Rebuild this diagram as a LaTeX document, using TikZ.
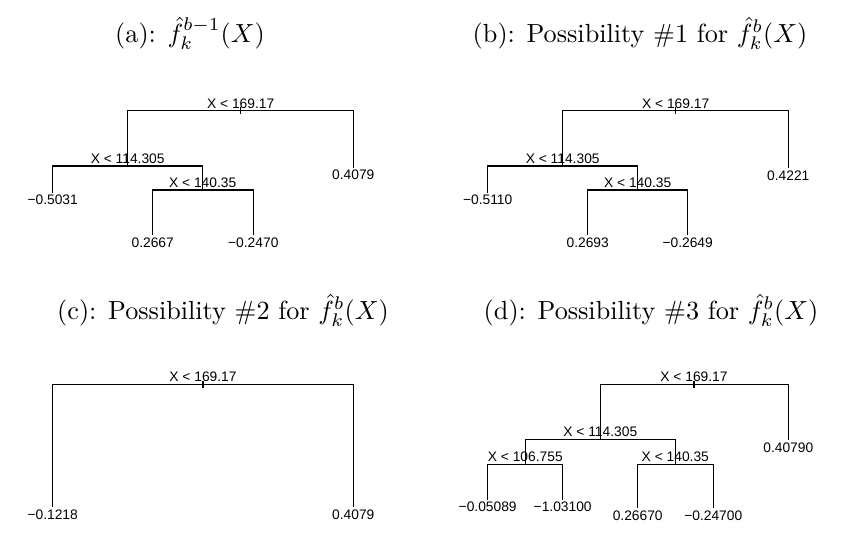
\documentclass[tikz,border=0pt]{standalone}
\usepackage{graphicx}
\usepackage{fontspec}
\newfontfamily\treefont{Liberation Sans}
\newcommand{\ttl}[1]{\scalebox{2.62}{\fontsize{10}{12}\selectfont #1}}
\begin{document}
\begin{tikzpicture}[x=1pt,y=-1pt,
  edge/.style={line width=1.3pt, black},
  split/.style={font=\treefont\fontsize{13.8}{15}\selectfont, anchor=base, inner sep=0pt},
  leaf/.style={font=\treefont\fontsize{13.8}{15}\selectfont, anchor=base, inner sep=0pt},
  title/.style={anchor=base, inner sep=0pt}]
\fill[white] (0,0) rectangle (847,546);
\useasboundingbox (0,0) rectangle (847,546);

% titles
\node[title] (ta) at (190,42) {\ttl{(a): $\hat f_k^{b-1}(X)$}};
\node[title] (tb) at (640,42) {\ttl{(b): Possibility \#1 for $\hat f_k^{b}(X)$}};
\node[title] (tc) at (223,319) {\ttl{(c): Possibility \#2 for $\hat f_k^{b}(X)$}};
\node[title] (td) at (651,319) {\ttl{(d): Possibility \#3 for $\hat f_k^{b}(X)$}};

% ---------- panel (a)
\coordinate (a0) at (240.7,110.7);
\coordinate (a1) at (127.7,166);
\coordinate (a2) at (353.3,167.5);
\coordinate (a3) at (52.7,192.5);
\coordinate (a4) at (202.7,190);
\coordinate (a5) at (152.7,235);
\coordinate (a6) at (253.3,235);
\draw[edge] (a0) -| (a1);
\draw[edge] (a0) -| (a2);
\draw[edge] (a1) -| (a3);
\draw[edge] (a1) -| (a4);
\draw[edge] (a4) -| (a5);
\draw[edge] (a4) -| (a6);
\draw[edge] ([yshift=3.8pt]a0) -- ([yshift=-3.6pt]a0);
\node[split] (a0t) at ([yshift=2.5pt]a0) {X < 169.17};
\node[split] (a1t) at ([yshift=2.5pt]a1) {X < 114.305};
\node[split] (a4t) at ([yshift=2.5pt]a4) {X < 140.35};
\node[leaf] (a2t) at ([yshift=-12pt]a2) {0.4079};
\node[leaf] (a3t) at ([yshift=-12pt]a3) {−0.5031};
\node[leaf] (a5t) at ([yshift=-12pt]a5) {0.2667};
\node[leaf] (a6t) at ([yshift=-12pt]a6) {−0.2470};

% ---------- panel (b)
\coordinate (b0) at (675.7,110.7);
\coordinate (b1) at (562.7,166);
\coordinate (b2) at (788.3,168);
\coordinate (b3) at (487.7,192.5);
\coordinate (b4) at (637.7,190);
\coordinate (b5) at (587.7,235);
\coordinate (b6) at (687.7,235);
\draw[edge] (b0) -| (b1);
\draw[edge] (b0) -| (b2);
\draw[edge] (b1) -| (b3);
\draw[edge] (b1) -| (b4);
\draw[edge] (b4) -| (b5);
\draw[edge] (b4) -| (b6);
\draw[edge] ([yshift=3.8pt]b0) -- ([yshift=-3.6pt]b0);
\node[split] (b0t) at ([yshift=2.5pt]b0) {X < 169.17};
\node[split] (b1t) at ([yshift=2.5pt]b1) {X < 114.305};
\node[split] (b4t) at ([yshift=2.5pt]b4) {X < 140.35};
\node[leaf] (b2t) at ([yshift=-12pt]b2) {0.4221};
\node[leaf] (b3t) at ([yshift=-12pt]b3) {−0.5110};
\node[leaf] (b5t) at ([yshift=-12pt]b5) {0.2693};
\node[leaf] (b6t) at ([yshift=-12pt]b6) {−0.2649};

% ---------- panel (c)
\coordinate (c0) at (203,384.3);
\coordinate (c1) at (52.7,507);
\coordinate (c2) at (353.3,507);
\draw[edge] (c0) -| (c1);
\draw[edge] (c0) -| (c2);
\draw[edge] ([yshift=3.8pt]c0) -- ([yshift=-3.6pt]c0);
\node[split] (c0t) at ([yshift=2.5pt]c0) {X < 169.17};
\node[leaf] (c1t) at ([yshift=-12.5pt]c1) {−0.1218};
\node[leaf] (c2t) at ([yshift=-12.5pt]c2) {0.4079};

% ---------- panel (d)
\coordinate (d0) at (694,384.3);
\coordinate (d1) at (600.3,439.3);
\coordinate (d2) at (788.3,440);
\coordinate (d3) at (525.3,464.3);
\coordinate (d4) at (675.3,464.3);
\coordinate (d5) at (487.7,499.5);
\coordinate (d6) at (562.7,499.5);
\coordinate (d7) at (637.7,508.3);
\coordinate (d8) at (713.3,508.3);
\draw[edge] (d0) -| (d1);
\draw[edge] (d0) -| (d2);
\draw[edge] (d1) -| (d3);
\draw[edge] (d1) -| (d4);
\draw[edge] (d3) -| (d5);
\draw[edge] (d3) -| (d6);
\draw[edge] (d4) -| (d7);
\draw[edge] (d4) -| (d8);
\draw[edge] ([yshift=3.8pt]d0) -- ([yshift=-3.6pt]d0);
\node[split] (d0t) at ([yshift=2.5pt]d0) {X < 169.17};
\node[split] (d1t) at ([yshift=2.5pt]d1) {X < 114.305};
\node[split] (d3t) at ([yshift=2.5pt]d3) {X < 106.755};
\node[split] (d4t) at ([yshift=2.5pt]d4) {X < 140.35};
\node[leaf] (d2t) at ([yshift=-12.5pt]d2) {0.40790};
\node[leaf] (d5t) at ([yshift=-12pt]d5) {−0.05089};
\node[leaf] (d6t) at ([yshift=-12pt]d6) {−1.03100};
\node[leaf] (d7t) at ([yshift=-12pt]d7) {0.26670};
\node[leaf] (d8t) at ([yshift=-12pt]d8) {−0.24700};
\end{tikzpicture}
\end{document}
